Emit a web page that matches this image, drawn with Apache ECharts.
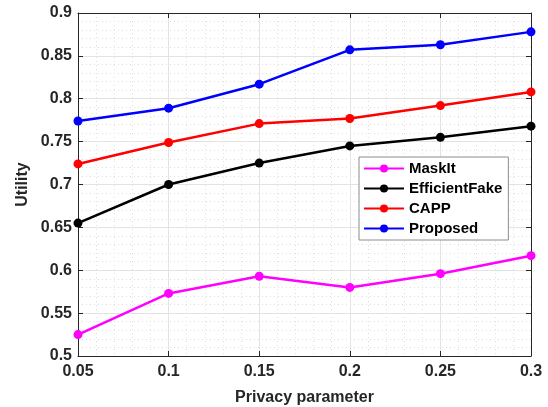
<!DOCTYPE html>
<html>
<head>
<meta charset="utf-8">
<script src="https://cdn.jsdelivr.net/npm/echarts@6/dist/echarts.min.js"></script>
<style>
  html, body { margin: 0; padding: 0; background: #fff; }
  #chart { width: 548px; height: 407px; }
</style>
</head>
<body>
<div id="chart"></div>
<script>
// Privacy parameter values on the x axis
const privacy = [0.05, 0.1, 0.15, 0.2, 0.25, 0.3];

// Utility for each method
const maskIt        = [0.525, 0.573, 0.593, 0.580, 0.596, 0.617];
const efficientFake = [0.655, 0.700, 0.725, 0.745, 0.755, 0.768];
const capp          = [0.724, 0.749, 0.771, 0.777, 0.792, 0.808];
const proposed      = [0.774, 0.789, 0.817, 0.857, 0.863, 0.878];

const seriesNames  = ['MaskIt', 'EfficientFake', 'CAPP', 'Proposed'];
const seriesValues = [maskIt, efficientFake, capp, proposed];
const seriesColors = ['#ff00ff', '#000000', '#ff0000', '#0000ff'];

const axisColor = '#262626';
const font = 'Arial, "Liberation Sans", sans-serif';

function pairs(values) {
  return privacy.map((x, i) => [x, values[i]]);
}

const fmt = v => String(+v.toFixed(2));

const boxAxis = {
  axisLine: { show: true, lineStyle: { color: axisColor, width: 1 } },
  axisTick: { show: true, inside: true, length: 5, lineStyle: { color: axisColor } },
  axisLabel: { show: false },
  splitLine: { show: false }
};

const chart = echarts.init(document.getElementById('chart'), null, { renderer: 'canvas' });

chart.setOption({
  animation: false,
  backgroundColor: '#ffffff',
  grid: { left: 78, right: 17, top: 13, bottom: 51, containLabel: false, outerBoundsMode: 'none' },
  legend: {
    left: 359,
    top: 157,
    orient: 'vertical',
    data: seriesNames,
    backgroundColor: '#ffffff',
    borderColor: '#8c8c8c',
    borderWidth: 1,
    borderRadius: 0,
    padding: [4, 6, 4, 4],
    itemGap: 5,
    itemWidth: 40,
    itemHeight: 10,
    textStyle: { fontFamily: font, fontWeight: 'bold', fontSize: 15, color: '#000' }
  },
  xAxis: [
    {
      type: 'value',
      min: 0.05, max: 0.3, interval: 0.05,
      name: 'Privacy parameter',
      nameLocation: 'middle',
      nameGap: 34,
      nameTextStyle: { fontFamily: font, fontWeight: 'bold', fontSize: 16, color: axisColor },
      axisLine: { show: true, onZero: false, lineStyle: { color: axisColor, width: 1 } },
      axisTick: { show: true, inside: true, length: 5, lineStyle: { color: axisColor } },
      axisLabel: { fontFamily: font, fontWeight: 'bold', fontSize: 16, color: axisColor, margin: 8, formatter: fmt },
      splitLine: { show: true, lineStyle: { color: '#e3e3e3', width: 1 } },
      minorTick: { show: false, splitNumber: 5 },
      minorSplitLine: { show: true, lineStyle: { color: '#e0e0e0', width: 1, type: [1, 3] } }
    },
    Object.assign({ type: 'value', position: 'top', min: 0.05, max: 0.3, interval: 0.05 }, boxAxis)
  ],
  yAxis: [
    {
      type: 'value',
      min: 0.5, max: 0.9, interval: 0.05,
      name: 'Utility',
      nameLocation: 'middle',
      nameGap: 47,
      nameMoveOverlap: false,
      nameTextStyle: { fontFamily: font, fontWeight: 'bold', fontSize: 16, color: axisColor },
      axisLine: { show: true, onZero: false, lineStyle: { color: axisColor, width: 1 } },
      axisTick: { show: true, inside: true, length: 5, lineStyle: { color: axisColor } },
      axisLabel: { fontFamily: font, fontWeight: 'bold', fontSize: 16, color: axisColor, margin: 6, formatter: fmt },
      splitLine: { show: true, lineStyle: { color: '#e3e3e3', width: 1 } },
      minorTick: { show: false, splitNumber: 5 },
      minorSplitLine: { show: true, lineStyle: { color: '#e0e0e0', width: 1, type: [1, 3] } }
    },
    Object.assign({ type: 'value', position: 'right', min: 0.5, max: 0.9, interval: 0.05 }, boxAxis)
  ],
  series: seriesNames.map((name, i) => ({
    name,
    type: 'line',
    data: pairs(seriesValues[i]),
    symbol: 'circle',
    symbolSize: 9,
    lineStyle: { color: seriesColors[i], width: 2.5 },
    itemStyle: { color: seriesColors[i] },
    z: 3 + i
  }))
});
</script>
</body>
</html>
